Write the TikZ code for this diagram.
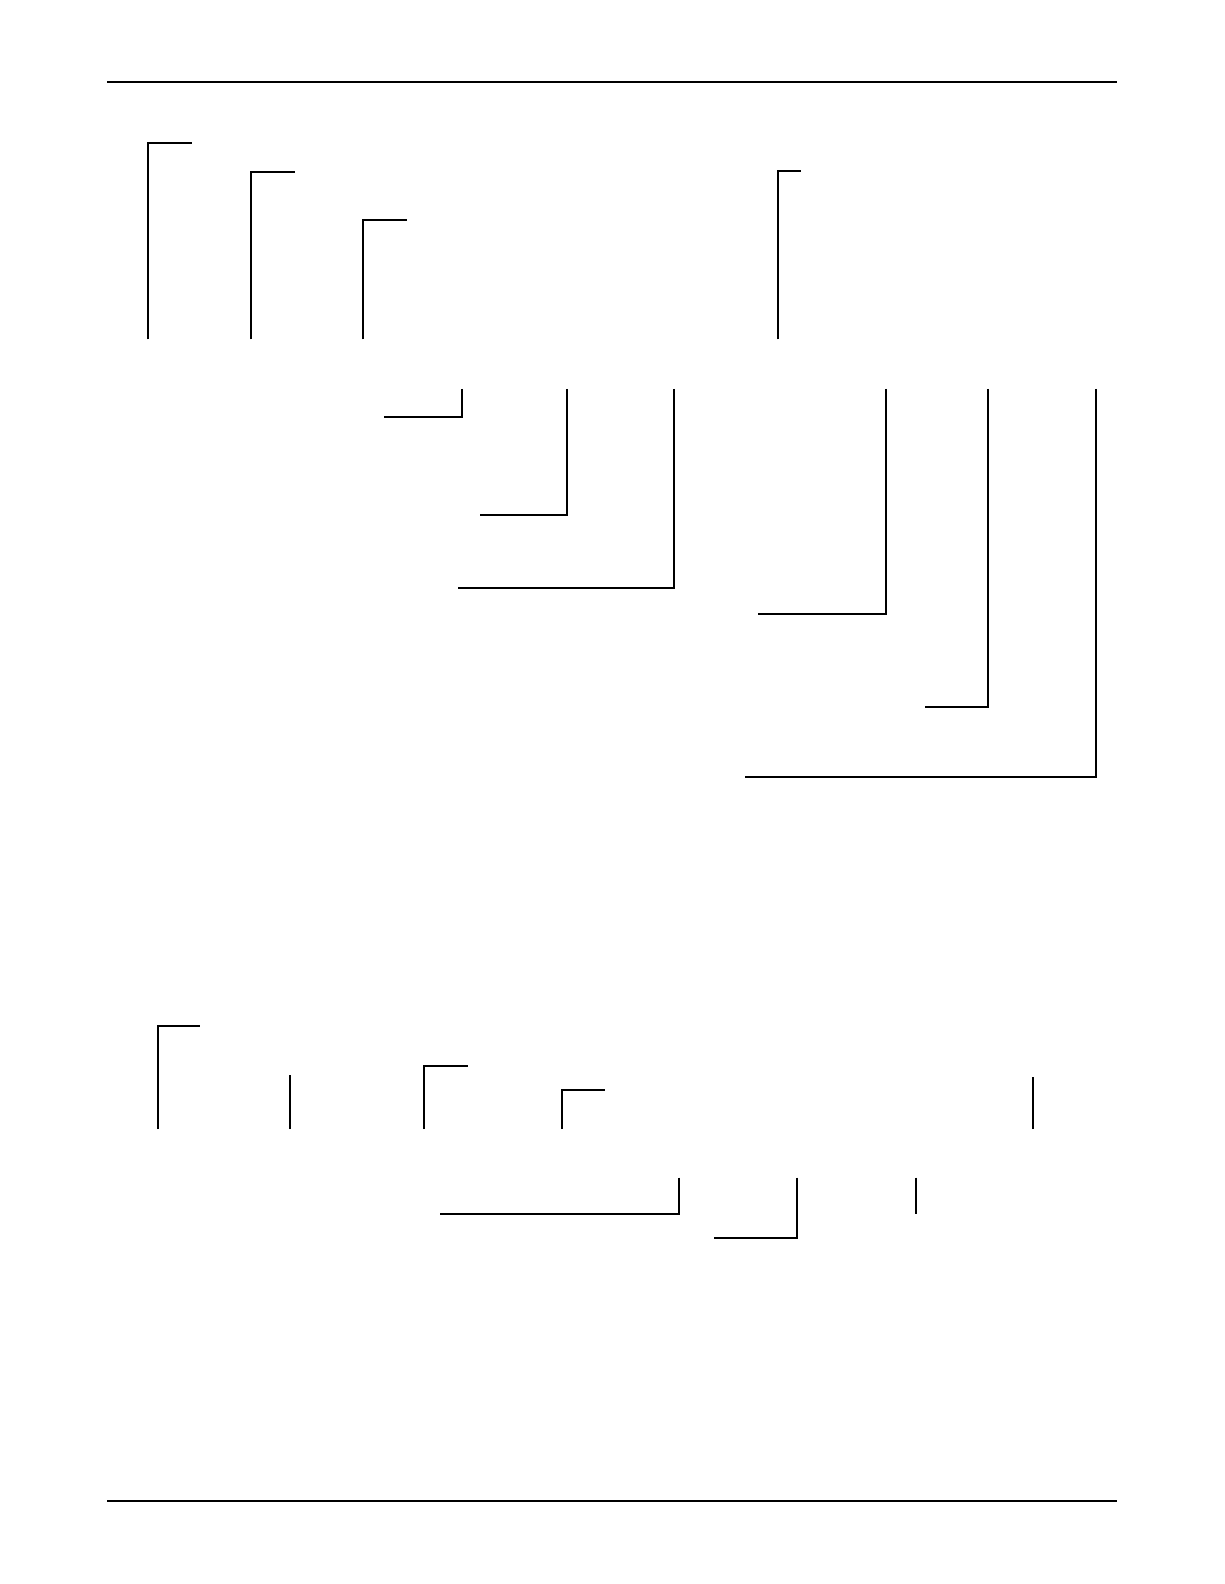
\documentclass[tikz,border=0pt]{standalone}
\begin{document}
\begin{tikzpicture}[x=0.75pt,y=-0.75pt,
  rule/.style={line width=1.1pt,line cap=rect},
  bar/.style={line width=1.5pt,line join=miter}]
\useasboundingbox[fill=white] (0,0) rectangle (1224,1584);
\begin{scope}[scale=1.01]
% page rules
\draw[rule] (107,81) -- (1105,81);
\draw[rule] (107,1486) -- (1105,1486);
% top group: brackets opening down
\draw[bar] (147,336) -- (147,142) -- (190,142);
\draw[bar] (249,336) -- (249,170) -- (292,170);
\draw[bar] (359,336) -- (359,218) -- (403,218);
\draw[bar] (770,336) -- (770,169) -- (793,169);
% middle group: brackets closing up
\draw[bar] (457,385) -- (457,413) -- (380,413);
\draw[bar] (561,385) -- (561,510) -- (475,510);
\draw[bar] (667,385) -- (667,582) -- (453,582);
\draw[bar] (877,385) -- (877,608) -- (750,608);
\draw[bar] (978,385) -- (978,700) -- (916,700);
\draw[bar] (1085,385) -- (1085,769) -- (738,769);
% bottom group upper row
\draw[bar] (156,1118) -- (156,1016) -- (198,1016);
\draw[bar] (287,1118) -- (287,1064);
\draw[bar] (420,1118) -- (420,1055) -- (463,1055);
\draw[bar] (556,1118) -- (556,1079) -- (599,1079);
\draw[bar] (1023,1118) -- (1023,1066);
% bottom group lower row
\draw[bar] (672,1166) -- (672,1202) -- (436,1202);
\draw[bar] (789,1166) -- (789,1226) -- (707,1226);
\draw[bar] (907,1166) -- (907,1202);
\end{scope}
\end{tikzpicture}
\end{document}
